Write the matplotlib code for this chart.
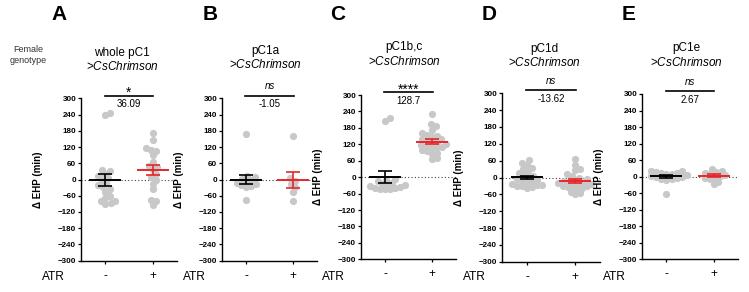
import numpy as np
import matplotlib
matplotlib.use("Agg")
import matplotlib.pyplot as plt

# === 1. Data (delta EHP in minutes) ===
panel_letters = ["A", "B", "C", "D", "E"]
panel_names = ["whole pC1", "pC1a", "pC1b,c", "pC1d", "pC1e"]
sig_labels = ["*", "ns", "****", "ns", "ns"]
diff_labels = ["36.09", "-1.05", "128.7", "-13.62", "2.67"]
group_labels = ["-", "+"]

ctrl_A = [245, 238, 35, 30, 20, 12, 5, 0, -12, -20, -28, -35, -45, -60, -70, -78, -80, -88, -90]
atr_A = [170, 145, 115, 110, 105, 90, 65, 50, 45, 35, 20, 10, 0, -15, -35, -75, -80, -95]

ctrl_B = [168, 12, 8, 3, -3, -8, -12, -18, -22, -25, -28, -75]
atr_B = [160, 5, -5, -18, -28, -45, -78]

ctrl_C = [215, 205, -5, -10, -15, -20, -25, -28, -30, -33, -35, -38, -40, -42, -45, -45]
atr_C = [230, 195, 185, 172, 160, 155, 150, 145, 140, 138, 135, 130, 125, 120, 118,
         115, 110, 110, 105, 100, 95, 90, 85, 70, 65]

ctrl_D = [62, 50, 45, 35, 30, 22, 15, 10, 5, 0, -5, -8, -12, -15, -18, -22, -25, -28,
          -30, -32, -35, -38]
atr_D = [65, 45, 30, 25, 12, 5, 0, -5, -10, -12, -15, -18, -20, -22, -25, -28, -30,
         -32, -35, -38, -42, -50, -55, -60]

ctrl_E = [22, 20, 18, 15, 12, 10, 8, 5, 2, 0, -3, -5, -8, -10, -12, -62]
atr_E = [28, 20, 18, 15, 10, 5, 2, 0, -5, -10, -18, -25]

controls = [ctrl_A, ctrl_B, ctrl_C, ctrl_D, ctrl_E]
treated = [atr_A, atr_B, atr_C, atr_D, atr_E]

# === 2. Layout (pixel boxes of each axes: left, top, right, bottom) ===
W, H = 749, 292
boxes = [(81, 98.3, 177, 260.7), (222, 98.3, 317, 260.7), (361, 95, 456, 259.3),
         (502, 93.3, 600, 261.7), (642, 94, 738, 259.3)]
letter_x = [59.5, 210, 338, 489, 629]
title_x = [122, 265, 404, 544, 686]
title_y = [67, 65, 61, 63, 62]

plt.rcParams["font.family"] = ["Liberation Sans", "DejaVu Sans"]
plt.rcParams["mathtext.fontset"] = "custom"
plt.rcParams["mathtext.rm"] = "Liberation Sans"
plt.rcParams["mathtext.it"] = "Liberation Sans:italic"

gray = "#c8c8c8"
red = "#e8262a"

fig = plt.figure(figsize=(W / 100, H / 100), dpi=100)


def swarm_offsets(ax, x0, vals, d):
    # simple beeswarm in pixel space, returned in data units
    pts = ax.transData.transform(np.column_stack([np.full(len(vals), x0), vals]))
    ys = pts[:, 1]
    offs = np.zeros(len(vals))
    placed = []
    for i in np.argsort(ys, kind="stable"):
        y = ys[i]
        cands = [0.0]
        for px, py in placed:
            dy = abs(y - py)
            if dy < d:
                w = np.sqrt(d * d - dy * dy)
                cands += [px + w, px - w]
        cands.sort(key=abs)
        for c in cands:
            if all((c - px) ** 2 + (y - py) ** 2 >= d * d - 1e-6 for px, py in placed):
                offs[i] = c
                break
        placed.append((offs[i], y))
    xp = ax.transData.transform([(0, 0), (1, 0)])
    return offs / (xp[1, 0] - xp[0, 0])


fig.text(28 / W, 1 - 55 / H, "Female\ngenotype", ha="center", va="center",
         fontsize=6.5, color="#333333", linespacing=1.35)

# === 3. Draw the five panels ===
for i in range(5):
    x0, y0, x1, y1 = boxes[i]
    ax = fig.add_axes([x0 / W, 1 - y1 / H, (x1 - x0) / W, (y1 - y0) / H])
    ax.set_xlim(-0.52, 1.52)
    ax.set_ylim(-300, 300)
    ax.set_yticks(np.arange(-300, 301, 60))
    ax.set_xticks([0, 1])
    ax.set_xticklabels(group_labels, fontsize=8.6)
    ax.spines["top"].set_visible(False)
    ax.spines["right"].set_visible(False)
    ax.spines["left"].set_linewidth(1.0)
    ax.spines["bottom"].set_linewidth(1.0)
    ax.tick_params(axis="y", length=2.5, width=0.9, labelsize=5.8, pad=1)
    ax.tick_params(axis="x", length=2.5, width=0.9, pad=4)
    for lbl in ax.get_yticklabels():
        lbl.set_fontweight("bold")
    ax.set_ylabel("Δ EHP (min)", fontsize=7, fontweight="bold")
    ax.yaxis.set_label_coords(-38 / (x1 - x0), 0.5)

    ax.axhline(0, color="#444444", lw=0.8, ls=(0, (1, 2)), zorder=1)

    for gx, vals, col in [(0, controls[i], "black"), (1, treated[i], red)]:
        vals = np.array(vals, dtype=float)
        dx = swarm_offsets(ax, gx, vals, 5.2)
        ax.scatter(gx + dx, vals, s=27, color=gray, linewidths=0, zorder=2)
        m = vals.mean()
        se = vals.std(ddof=1) / np.sqrt(len(vals))
        ax.hlines(m, gx - 0.34, gx + 0.34, color=col, lw=1.4, zorder=4)
        ax.errorbar(gx, m, yerr=se, fmt="none", ecolor=col, elinewidth=1.2,
                    capsize=5, capthick=1.2, zorder=4)

    # significance bar
    ax.plot([-0.02, 1.02], [310, 310], color="black", lw=1.2, clip_on=False)
    if sig_labels[i] == "ns":
        ax.annotate("ns", xy=(0.5, 310), xytext=(0, 4.5), textcoords="offset points",
                    ha="center", va="baseline", fontsize=7, style="italic",
                    annotation_clip=False)
    else:
        ax.annotate(sig_labels[i], xy=(0.5, 310), xytext=(0, -0.8), textcoords="offset points",
                    ha="center", va="baseline", fontsize=10, annotation_clip=False)
    ax.annotate(diff_labels[i], xy=(0.5, 310), xytext=(0, -6), textcoords="offset points",
                ha="center", va="center", fontsize=7, annotation_clip=False)

    # titles and labels
    fig.text(title_x[i] / W, 1 - (title_y[i] - 14) / H, panel_names[i],
             ha="center", va="center", fontsize=8.5)
    fig.text(title_x[i] / W, 1 - title_y[i] / H, r">$\mathit{CsChrimson}$",
             ha="center", va="center", fontsize=8.5)
    fig.text(letter_x[i] / W, 1 - 15 / H, panel_letters[i], ha="center", va="center",
             fontsize=15, fontweight="bold")
    fig.text((x0 - 16) / W, 1 - 277 / H, "ATR", ha="right", va="center", fontsize=8.6)

plt.savefig("out.png", dpi=100)
